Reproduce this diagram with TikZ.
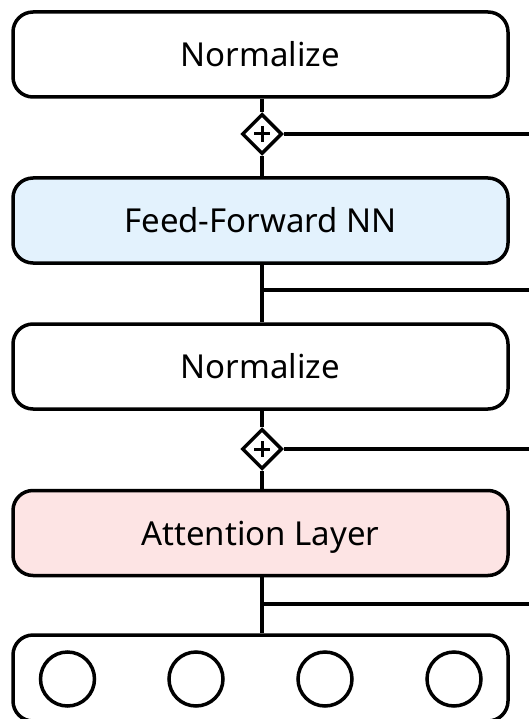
\documentclass[tikz,border=0pt]{standalone}
\usepackage{fontspec}
\setmainfont{Noto Sans}
\usetikzlibrary{shapes.geometric,calc}
\definecolor{ffblue}{HTML}{E3F2FD}
\definecolor{attpink}{HTML}{FDE4E4}
\begin{document}
\begin{tikzpicture}[x=1pt,y=-1pt,
  line width=3.5pt,
  layerbox/.style={draw=black, rounded corners=20pt, minimum width=495pt, minimum height=85pt,
    font=\fontsize{33}{40}\selectfont, inner sep=0pt, text height=24pt, text depth=0pt},
  addnode/.style={draw=black, diamond, fill=white, minimum width=40pt, minimum height=40pt, inner sep=0pt, line width=3.5pt},
  token/.style={draw=black, circle, minimum size=54pt, inner sep=0pt, line width=3.5pt},
  link/.style={draw=black, line width=3.5pt},
  plussign/.style={line width=3pt}]
\useasboundingbox (0,0) rectangle (529,719);
\begin{scope}
\clip (0,0) rectangle (529,719);
% layer boxes
\node[layerbox] (norm2) at (260.5,54.5) {Normalize};
\node[layerbox, fill=ffblue] (ffn) at (260.5,220.5) {Feed-Forward NN};
\node[layerbox] (norm1) at (260.5,366.5) {Normalize};
\node[layerbox, fill=attpink] (att) at (260.5,533) {Attention Layer};
\node[layerbox, minimum height=86pt] (inp) at (260.5,678) {};
% input tokens
\node[token] (t1) at (67.5,679) {};
\node[token] (t2) at (196,679) {};
\node[token] (t3) at (325,679) {};
\node[token] (t4) at (454,679) {};
% residual adders
\node[addnode] (add2) at (262,134) {};
\node[addnode] (add1) at (262,449) {};
\draw[plussign] ($(add2)+(-8,0)$) -- ++(16,0) ($(add2)+(0,-8)$) -- ++(0,16);
\draw[plussign] ($(add1)+(-8,0)$) -- ++(16,0) ($(add1)+(0,-8)$) -- ++(0,16);
% residual branch points and free ends
\coordinate (br2) at (262,290);
\coordinate (br1) at (262,604);
\coordinate (out2) at (531,134);
\coordinate (out1) at (531,449);
\coordinate (rb2) at (531,290);
\coordinate (rb1) at (531,604);
% main vertical path
\draw[link] (inp.north -| br1) -- (att.south -| br1);
\draw[link] (att.north -| add1) -- (add1.south);
\draw[link] (add1.north) -- (norm1.south -| add1);
\draw[link] (norm1.north -| br2) -- (ffn.south -| br2);
\draw[link] (ffn.north -| add2) -- (add2.south);
\draw[link] (add2.north) -- (norm2.south -| add2);
% residual lines
\draw[link] (br1) -- (rb1);
\draw[link] (br2) -- (rb2);
\draw[link] (add1.east) -- (out1);
\draw[link] (add2.east) -- (out2);
\end{scope}
\end{tikzpicture}
\end{document}
